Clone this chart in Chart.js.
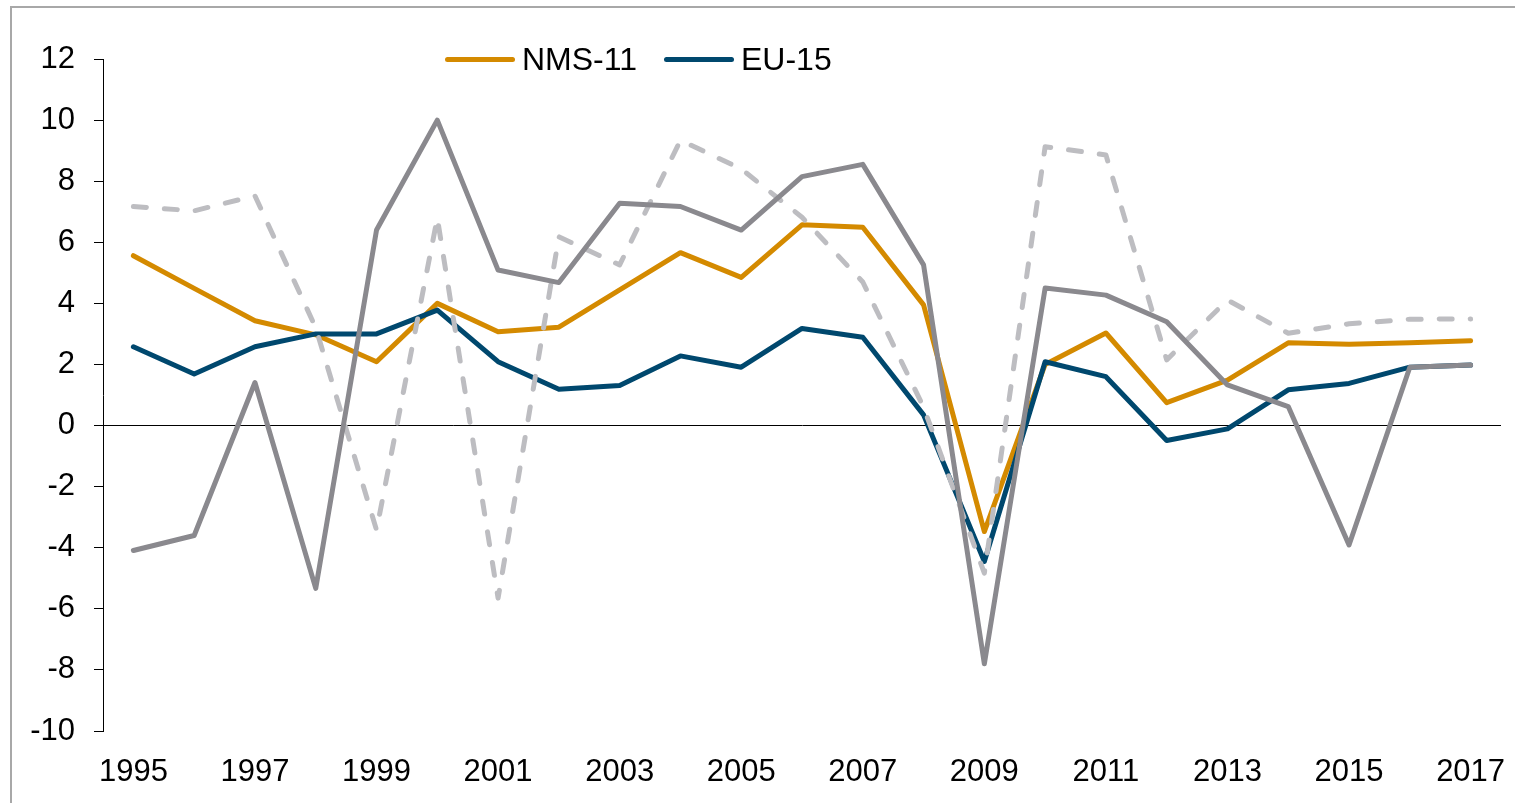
<!DOCTYPE html>
<html>
<head>
<meta charset="utf-8">
<script src="https://cdn.jsdelivr.net/npm/chart.js@4.4.0/dist/chart.umd.min.js"></script>
<style>
    html, body { margin: 0; padding: 0; background: #fff; overflow: hidden; }
    body { width: 1515px; height: 803px; position: relative; font-family: "Liberation Sans", Arial, sans-serif; }
    #frame { position: absolute; left: 10px; top: 6px; width: 1530px; height: 830px; border: 2px solid #a8a8a8; box-sizing: border-box; }
    #growthChart { position: absolute; left: 0; top: 0; }
    .legend { position: absolute; top: 41px; left: 445px; display: flex; align-items: center; font-size: 32px; color: #000; }
    .legend .item { display: flex; align-items: center; margin-right: 27px; }
    .legend .swatch { width: 70px; height: 5px; border-radius: 3px; margin-right: 7px; }
</style>
</head>
<body>
<div id="frame"></div>
<canvas id="growthChart" width="1515" height="803"></canvas>
<div class="legend" id="legend"></div>

<script>
// years on the x axis (every other one gets a label)
const years = ["1995", "1996", "1997", "1998", "1999", "2000", "2001", "2002", "2003", "2004", "2005", "2006",
    "2007", "2008", "2009", "2010", "2011", "2012", "2013", "2014", "2015", "2016", "2017"];

const nms11 = [5.56, 4.49, 3.43, 2.97, 2.09, 4.0, 3.07, 3.22, 4.44, 5.66, 4.85, 6.57,
    6.49, 3.95, -3.47, 2.0, 3.03, 0.75, 1.49, 2.71, 2.66, 2.71, 2.78];
const eu15 = [2.58, 1.69, 2.58, 3.0, 3.0, 3.78, 2.09, 1.19, 1.31, 2.28, 1.91, 3.18,
    2.89, 0.35, -4.45, 2.09, 1.6, -0.49, -0.11, 1.17, 1.38, 1.91, 1.98];
// the two grey series have no legend entry
const greySolid = [-4.09, -3.6, 1.41, -5.33, 6.4, 10.0, 5.09, 4.68, 7.28, 7.17, 6.4, 8.15,
    8.55, 5.26, -7.8, 4.5, 4.27, 3.4, 1.33, 0.62, -3.91, 1.91, 1.98];
const greyDashed = [7.17, 7.03, 7.52, 3.2, -3.42, 6.8, -5.65, 6.18, 5.26, 9.34, 8.4, 6.82,
    4.7, 0.6, -4.83, 9.13, 8.86, 2.15, 4.11, 3.02, 3.33, 3.48, 3.49];

const yMin = -10;
const yMax = 12;
const yStep = 2;

const fontFamily = '"Liberation Sans", Arial, sans-serif';

function lineSet(label, data, color, order, dash) {
    return {
        label: label,
        data: data,
        borderColor: color,
        backgroundColor: color,
        borderWidth: 5,
        borderDash: dash || [],
        borderCapStyle: "round",
        borderJoinStyle: "round",
        pointRadius: 0,
        pointHoverRadius: 0,
        tension: 0,
        fill: false,
        order: order,
    };
}

const ctx = document.getElementById("growthChart");
const growthChart = new Chart(ctx, {
    type: "line",
    data: {
        labels: years,
        datasets: [
            lineSet("NMS-11", nms11, "#d48a00", 4),
            lineSet("EU-15", eu15, "#00486e", 3),
            lineSet("", greyDashed, "#bdbdc1", 2, [13, 18]),
            lineSet("", greySolid, "#8a898e", 1),
        ],
    },
    options: {
        responsive: false,
        animation: false,
        devicePixelRatio: 1,
        layout: {
            padding: { top: 59, right: 14, bottom: 0, left: 0 },
        },
        plugins: {
            legend: { display: false },
            tooltip: { enabled: false },
        },
        scales: {
            x: {
                type: "category",
                offset: true,
                grid: { display: false },
                border: { display: false },
                ticks: {
                    autoSkip: false,
                    maxRotation: 0,
                    padding: 15,
                    color: "#000",
                    font: { family: fontFamily, size: 31 },
                    callback: function (value, index) {
                        return index % 2 === 0 ? years[index] : "";
                    },
                },
                afterFit: function (scale) {
                    scale.height = 72;
                    // labels may overhang, keep the plot width fixed
                    scale.paddingLeft = 0;
                    scale.paddingRight = 0;
                },
            },
            y: {
                min: yMin,
                max: yMax,
                grid: {
                    drawOnChartArea: true,
                    drawTicks: true,
                    tickLength: 9,
                    tickColor: "#000",
                    lineWidth: 1,
                    color: function (c) {
                        return c.tick && c.tick.value === 0 ? "#000" : "rgba(0,0,0,0)";
                    },
                },
                border: { display: true, color: "#000", width: 1 },
                ticks: {
                    stepSize: yStep,
                    padding: 19,
                    color: "#000",
                    font: { family: fontFamily, size: 31 },
                },
                afterFit: function (scale) {
                    scale.width = 103;
                },
            },
        },
    },
});

// html legend, only the two named series
const legendBox = document.getElementById("legend");
growthChart.data.datasets.slice(0, 2).forEach(function (ds) {
    const item = document.createElement("div");
    item.className = "item";
    const sw = document.createElement("span");
    sw.className = "swatch";
    sw.style.background = ds.borderColor;
    const txt = document.createElement("span");
    txt.textContent = ds.label;
    item.appendChild(sw);
    item.appendChild(txt);
    legendBox.appendChild(item);
});
</script>
</body>
</html>
